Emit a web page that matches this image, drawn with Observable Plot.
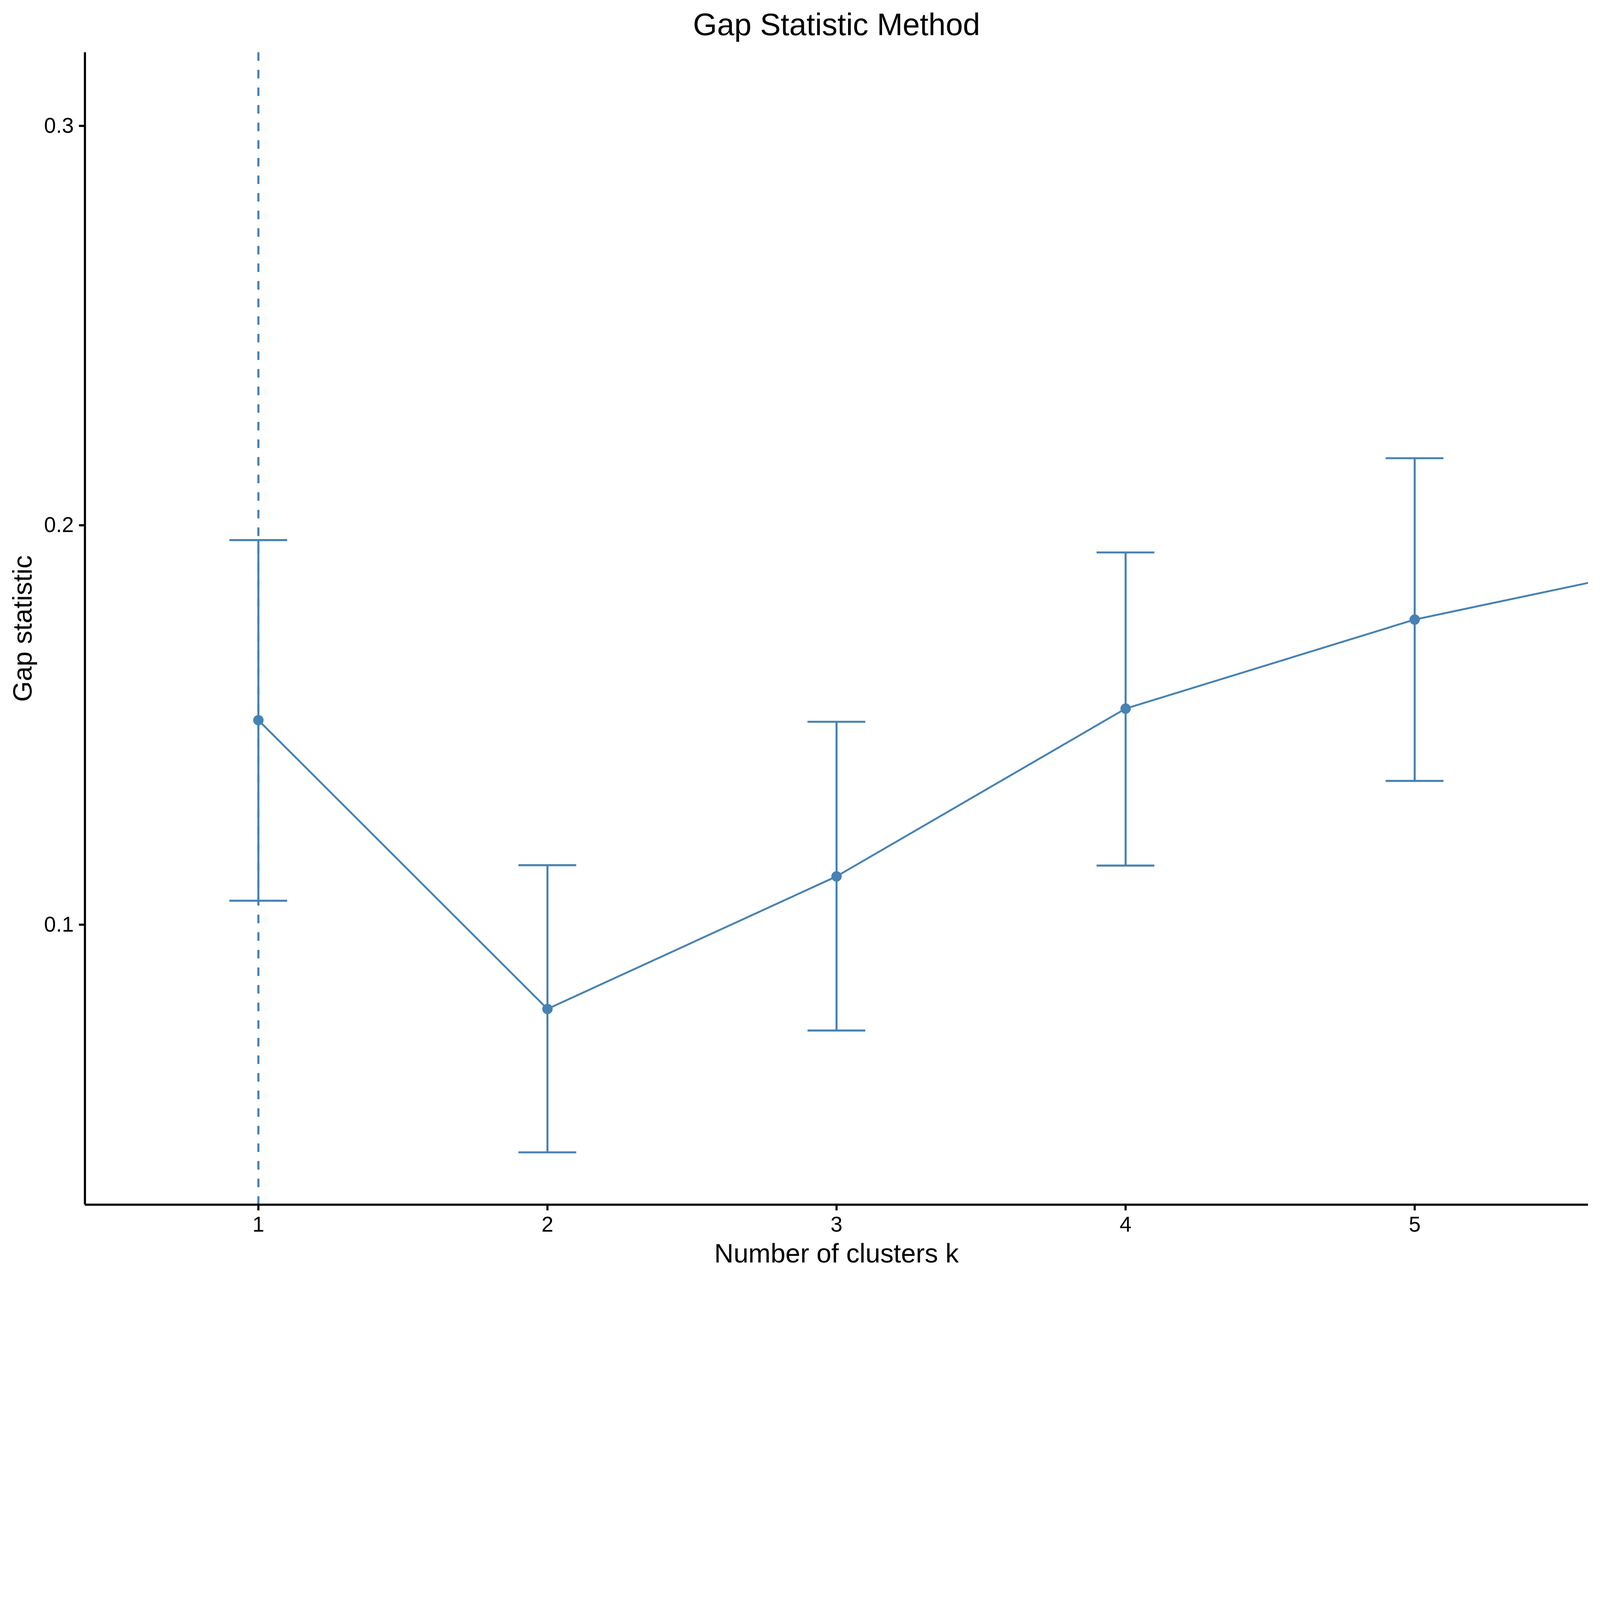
<!DOCTYPE html>
<html>
<head>
<meta charset="utf-8">
<script src="https://cdn.jsdelivr.net/npm/d3@7"></script>
<script src="https://cdn.jsdelivr.net/npm/@observablehq/plot@0.6"></script>
<style>
  html, body { margin: 0; padding: 0; background: #ffffff; }
  #chart svg { display: block; }
</style>
</head>
<body>
<div id="chart"></div>
<script>
// ---- data ----
const clusters  = [1, 2, 3, 4, 5, 6];
const gapValues = [0.1512, 0.0789, 0.1121, 0.1541, 0.1764, 0.1917];
const errK      = [1, 2, 3, 4, 5];
const errLower  = [0.1060, 0.0430, 0.0735, 0.1148, 0.1360];
const errUpper  = [0.1963, 0.1149, 0.1508, 0.1932, 0.2168];
const optimalK  = [1];
const xTicks    = [1, 2, 3, 4, 5];
const yTicks    = [0.1, 0.2, 0.3];
const xDomain   = [0.4, 5.6];
const yDomain   = [0.0299, 0.3184];
const titleText  = "Gap Statistic Method";
const xLabelText = "Number of clusters k";
const yLabelText = "Gap statistic";

// ---- tables built from the arrays ----
const points = clusters.map((k, i) => ({k, gap: gapValues[i]}));
const errs = errK.map((k, i) => ({k, lo: errLower[i], hi: errUpper[i]}));
const capHalf = 0.1;
const color = "#4682B4";

const chart = Plot.plot({
  width: 6000,
  height: 4800,
  marginTop: 196,
  marginBottom: 283,
  marginLeft: 318,
  marginRight: 45,
  style: {fontFamily: "'Liberation Sans', Arial, Helvetica, sans-serif", background: "#ffffff", color: "#000000"},
  x: {domain: xDomain},
  y: {domain: yDomain},
  marks: [
    // optimal k dashed line
    Plot.ruleX(optimalK, {x: d => d, stroke: color, strokeWidth: 8, strokeDasharray: "32,34"}),
    // error bars
    Plot.ruleX(errs, {x: "k", y1: "lo", y2: "hi", stroke: color, strokeWidth: 7.5}),
    Plot.ruleY(errs, {y: "hi", x1: d => d.k - capHalf, x2: d => d.k + capHalf, stroke: color, strokeWidth: 7.5}),
    Plot.ruleY(errs, {y: "lo", x1: d => d.k - capHalf, x2: d => d.k + capHalf, stroke: color, strokeWidth: 7.5}),
    // line and points
    Plot.line(points, {x: "k", y: "gap", stroke: color, strokeWidth: 7, clip: true}),
    Plot.dot(points, {x: "k", y: "gap", r: 19.5, fill: color, stroke: null, clip: true}),
    // axis lines
    Plot.ruleX([xDomain[0]], {x: d => d, stroke: "#000", strokeWidth: 8}),
    Plot.ruleY([yDomain[0]], {y: d => d, stroke: "#000", strokeWidth: 8}),
    // axes
    Plot.axisX({ticks: xTicks, tickFormat: d => String(d), tickSize: 22, tickPadding: 22,
                fontSize: 80, strokeWidth: 8, label: null, fill: "#000"}),
    Plot.axisY({ticks: yTicks, tickFormat: d3.format(".1f"), tickSize: 22, tickPadding: 20,
                fontSize: 80, strokeWidth: 8, label: null, fill: "#000"}),
    // titles
    Plot.text([titleText], {text: d => d, frameAnchor: "top", dy: -65, lineAnchor: "bottom",
                            textAnchor: "middle", fontSize: 116, fill: "#000"}),
    Plot.text([xLabelText], {text: d => d, frameAnchor: "bottom", dy: 217, lineAnchor: "bottom",
                             textAnchor: "middle", fontSize: 100, fill: "#000"}),
    Plot.text([yLabelText], {text: d => d, frameAnchor: "left", dx: -200, rotate: -90,
                             lineAnchor: "bottom", textAnchor: "middle", fontSize: 100, fill: "#000"})
  ]
});
document.getElementById("chart").appendChild(chart);
</script>
</body>
</html>
